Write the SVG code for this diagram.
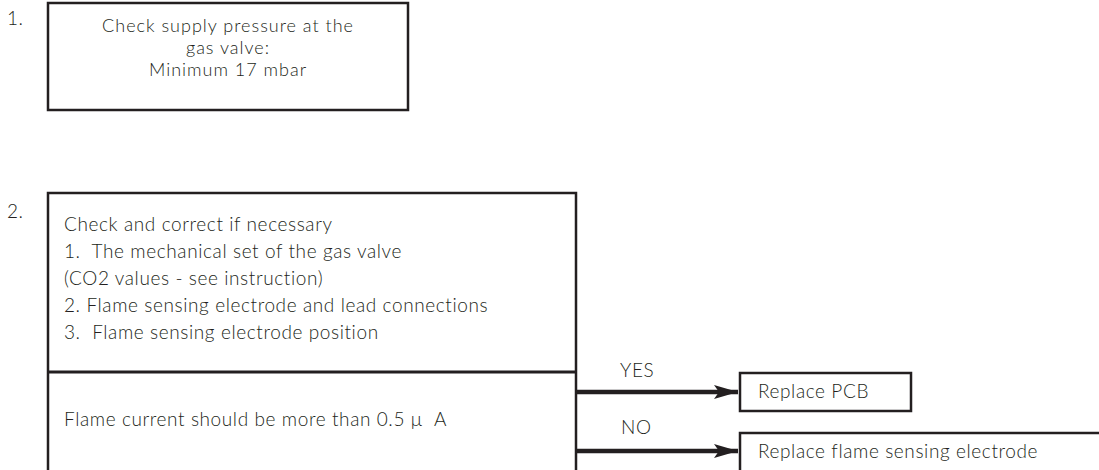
<svg xmlns="http://www.w3.org/2000/svg" width="1099" height="470" viewBox="0 0 1099 470">
<defs>
<style>
.t{font-family:Lato,"Liberation Sans",sans-serif;font-weight:300;font-size:19px;letter-spacing:0.6px;fill:#231f20}
.c{font-size:18px;letter-spacing:1px}
.box{fill:#fff;stroke:#231f20;stroke-width:2.5}
.conn{stroke:#231f20;stroke-width:4.5;fill:none}
</style>
<marker id="ah" markerUnits="userSpaceOnUse" markerWidth="26" markerHeight="16" refX="24" refY="8" orient="auto">
<path d="M0,1 L24,8 L0,15 L5,8 Z" fill="#231f20"/>
</marker>
</defs>
<rect width="1099" height="470" fill="#fff"/>
<g id="step1">
<text class="t" x="7" y="25">1.</text>
<rect class="box" x="48" y="3" width="360" height="107"/>
<text class="t c" x="228" y="32" text-anchor="middle">Check supply pressure at the</text>
<text class="t c" x="228" y="54" text-anchor="middle">gas valve:</text>
<text class="t c" x="228" y="76" text-anchor="middle">Minimum 17 mbar</text>
</g>
<g id="step2">
<text class="t" x="7" y="218">2.</text>
<rect class="box" x="48" y="193" width="528" height="290"/>
<text class="t" x="64" y="231">Check and correct if necessary</text>
<text class="t" x="64" y="258">1.&#160; The mechanical set of the gas valve</text>
<text class="t" x="64" y="285">(CO2 values - see instruction)</text>
<text class="t" x="64" y="312">2. Flame sensing electrode and lead connections</text>
<text class="t" x="64" y="339">3.&#160; Flame sensing electrode position</text>
</g>
<g id="check">
<line x1="48" y1="372" x2="576" y2="372" stroke="#231f20" stroke-width="3"/>
<text class="t" x="64" y="426">Flame current should be more than 0.5 μ&#160; A</text>
</g>
<g id="connectors">
<line class="conn" x1="577" y1="392" x2="738" y2="392" marker-end="url(#ah)"/>
<line class="conn" x1="577" y1="451" x2="738" y2="451" marker-end="url(#ah)"/>
<text class="t" x="620" y="377">YES</text>
<text class="t" x="621" y="434">NO</text>
</g>
<g id="pcb">
<rect class="box" x="740" y="373" width="171" height="38"/>
<text class="t" x="758" y="398">Replace PCB</text>
</g>
<g id="electrode">
<rect class="box" x="740" y="433" width="380" height="60"/>
<text class="t" x="758" y="458">Replace flame sensing electrode</text>
</g>
</svg>
